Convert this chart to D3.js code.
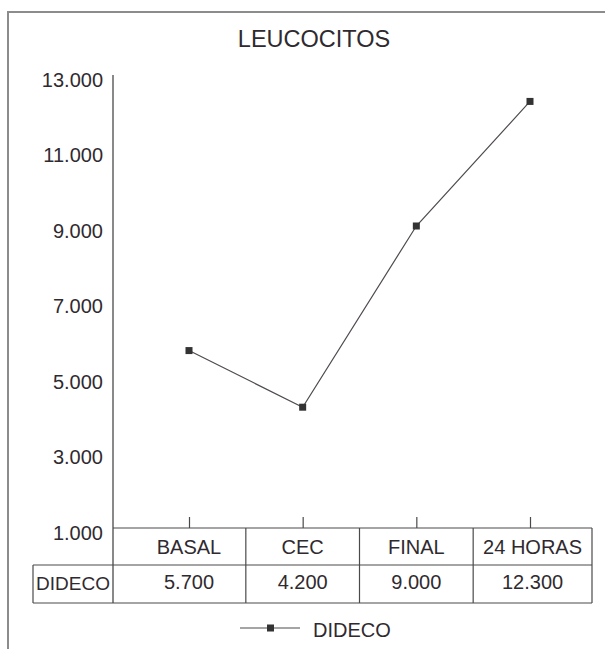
<!DOCTYPE html>
<html>
<head>
<meta charset="utf-8">
<script src="https://cdn.jsdelivr.net/npm/d3@7"></script>
<style>
  body { margin: 0; background: #fff; }
  text { font-family: "Liberation Sans", Arial, Helvetica, sans-serif; fill: #2f2a2f; }
</style>
</head>
<body>
<div id="canvas"></div>
<script>
// DATA
const categories = ["BASAL", "CEC", "FINAL", "24 HORAS"];
const values = [5700, 4200, 9000, 12300];
const seriesName = "DIDECO";
const yTicks = [1000, 3000, 5000, 7000, 9000, 11000, 13000];
const title = "LEUCOCITOS";

// DIMENSIONS
const width = 605;
const height = 649;

const axisX = 113;
const tableLeft = 33;
const tableRight = 592;
const rowTop = 528;
const rowMid = 565;
const rowBottom = 603;

const lineColor = "#4a4a4a";

// number format 13.000
const locale = d3.formatLocale({ decimal: ",", thousands: ".", grouping: [3], currency: ["", ""] });
const fmt = locale.format(",");

// CANVAS
const svg = d3.select("#canvas")
  .append("svg")
  .attr("width", width)
  .attr("height", height);

// outer frame (right and bottom run off the page)
svg.append("rect")
  .attr("x", 8).attr("y", 12)
  .attr("width", 640).attr("height", 680)
  .attr("fill", "none")
  .attr("stroke", "#8c8c8c")
  .attr("stroke-width", 2);

// SCALES
const x = d3.scalePoint()
  .domain(categories)
  .range([189, 530]);

const y = d3.scaleLinear()
  .domain([1000, 13000])
  .range([rowTop, 75]);

// TITLE
svg.append("text")
  .attr("x", 314)
  .attr("y", 47)
  .attr("text-anchor", "middle")
  .style("font-size", "23.5px")
  .text(title);

// Y AXIS
const yAxis = svg.append("g")
  .attr("transform", `translate(${axisX},0)`)
  .call(d3.axisLeft(y).tickValues(yTicks).tickFormat(fmt).tickSize(0).tickPadding(10));

yAxis.select(".domain").remove();
yAxis.selectAll("text")
  .attr("dy", "0.56em")
  .style("font-size", "20px")
  .attr("fill", "#2f2a2f");

svg.append("line")
  .attr("x1", axisX).attr("x2", axisX)
  .attr("y1", y(13000)).attr("y2", rowBottom)
  .attr("stroke", lineColor).attr("stroke-width", 1.3);

// X TICKS (upward from table top)
const xAxis = svg.append("g")
  .attr("transform", `translate(0,${rowTop})`)
  .call(d3.axisTop(x).tickSize(11).tickFormat(""));
xAxis.select(".domain").remove();
xAxis.selectAll("line").attr("stroke", lineColor).attr("stroke-width", 1.2);

// DATA TABLE
// column edges halfway between the category positions
const edges = [axisX];
for (let i = 0; i < categories.length - 1; i++) {
  edges.push((x(categories[i]) + x(categories[i + 1])) / 2);
}
edges.push(tableRight);

const table = svg.append("g")
  .attr("stroke", lineColor)
  .attr("stroke-width", 1.2);

table.append("line").attr("x1", axisX).attr("x2", tableRight).attr("y1", rowTop).attr("y2", rowTop);
table.append("line").attr("x1", tableLeft).attr("x2", tableRight).attr("y1", rowMid).attr("y2", rowMid);
table.append("line").attr("x1", tableLeft).attr("x2", tableRight).attr("y1", rowBottom).attr("y2", rowBottom);
table.append("line").attr("x1", tableLeft).attr("x2", tableLeft).attr("y1", rowMid).attr("y2", rowBottom);

table.selectAll(".col")
  .data(edges.slice(1))
  .join("line")
  .attr("class", "col")
  .attr("x1", d => d).attr("x2", d => d)
  .attr("y1", rowTop).attr("y2", rowBottom);

// category row
svg.selectAll(".cat")
  .data(categories)
  .join("text")
  .attr("class", "cat")
  .attr("x", (d, i) => i === categories.length - 1 ? (edges[i] + edges[i + 1]) / 2 : x(d))
  .attr("y", (rowTop + rowMid) / 2 + 7)
  .attr("text-anchor", "middle")
  .style("font-size", "20px")
  .text(d => d);

// values row
svg.append("text")
  .attr("x", (tableLeft + axisX) / 2)
  .attr("y", (rowMid + rowBottom) / 2 + 6)
  .attr("text-anchor", "middle")
  .style("font-size", "19px")
  .text(seriesName);

svg.selectAll(".val")
  .data(values)
  .join("text")
  .attr("class", "val")
  .attr("x", (d, i) => i === categories.length - 1 ? (edges[i] + edges[i + 1]) / 2 : x(categories[i]))
  .attr("y", (rowMid + rowBottom) / 2 + 5)
  .attr("text-anchor", "middle")
  .style("font-size", "20px")
  .text(d => fmt(d));

// LINE
const line = d3.line()
  .x((d, i) => x(categories[i]))
  .y(d => y(d));

svg.append("path")
  .datum(values)
  .attr("d", line)
  .attr("fill", "none")
  .attr("stroke", "#4f4a4f")
  .attr("stroke-width", 1.2);

svg.selectAll(".pt")
  .data(values)
  .join("rect")
  .attr("class", "pt")
  .attr("x", (d, i) => x(categories[i]) - 3.5)
  .attr("y", d => y(d) - 3.5)
  .attr("width", 7)
  .attr("height", 7)
  .attr("fill", "#333");

// LEGEND
const legend = svg.append("g").attr("transform", "translate(0,628)");
legend.append("line")
  .attr("x1", 240).attr("x2", 300)
  .attr("y1", 0).attr("y2", 0)
  .attr("stroke", "#4f4a4f").attr("stroke-width", 1.2);
legend.append("rect")
  .attr("x", 267).attr("y", -3.5)
  .attr("width", 7).attr("height", 7)
  .attr("fill", "#333");
legend.append("text")
  .attr("x", 313)
  .attr("y", 8.5)
  .style("font-size", "20px")
  .text(seriesName);
</script>
</body>
</html>
